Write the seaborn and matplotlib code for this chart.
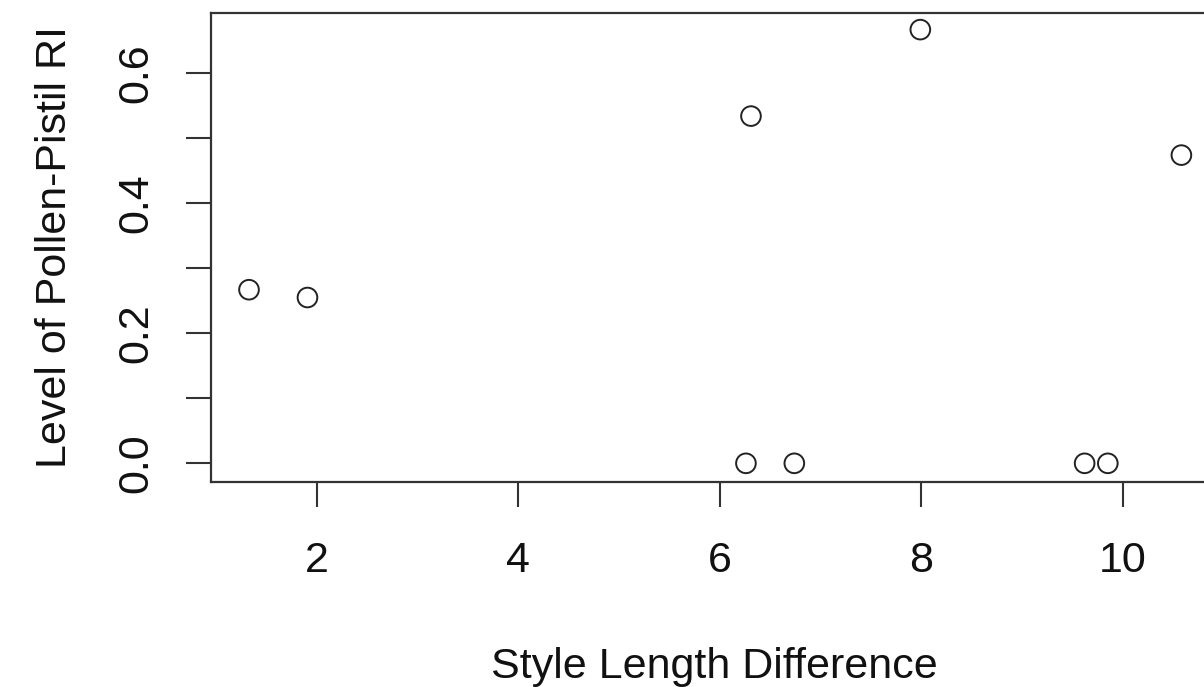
import numpy as np
import pandas as pd
import matplotlib
matplotlib.use("Agg")
import matplotlib.pyplot as plt
import seaborn as sns

# values
style_diff = [1.33, 1.91, 6.26, 6.31, 6.74, 7.99, 9.62, 9.85, 10.58]
pollen_ri = [0.267, 0.255, 0.0, 0.534, 0.0, 0.667, 0.0, 0.0, 0.474]

x_ticks = [2, 4, 6, 8, 10]
y_ticks = [0.0, 0.1, 0.2, 0.3, 0.4, 0.5, 0.6]
y_tick_labels = ["0.0", "", "0.2", "", "0.4", "", "0.6"]

df = pd.DataFrame({"diff": style_diff, "ri": pollen_ri})

sns.set_style("white")
plt.rcParams["font.family"] = ["Liberation Sans", "DejaVu Sans"]

fig = plt.figure(figsize=(12.04, 6.87), dpi=100)
# box runs past the right edge, like the cropped original
ax = fig.add_axes([0.175, 0.2988, 0.8372, 0.6827])

sns.scatterplot(data=df, x="diff", y="ri", ax=ax, marker="o", s=200,
                facecolors="none", edgecolor="#222222", linewidth=1.4)

ax.set_xlim(0.95, 10.95)
ax.set_ylim(-0.0283, 0.693)

ax.set_xticks(x_ticks)
ax.set_xticklabels([str(t) for t in x_ticks])
ax.set_yticks(y_ticks)
ax.set_yticklabels(y_tick_labels, rotation=90, va="center")

ax.tick_params(axis="both", direction="out", length=18, width=1.5,
               color="#333333", labelsize=31, labelcolor="#111111")
ax.tick_params(axis="x", pad=25, bottom=True)
ax.tick_params(axis="y", pad=21, left=True)

for sp in ax.spines.values():
    sp.set_visible(True)
    sp.set_color("#333333")
    sp.set_linewidth(1.6)

ax.set_xlabel("Style Length Difference", fontsize=31, color="#111111",
              labelpad=47)
ax.set_ylabel("Level of Pollen-Pistil RI", fontsize=31, color="#111111",
              labelpad=30)

fig.savefig("out.png", dpi=100)
